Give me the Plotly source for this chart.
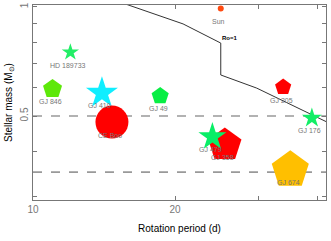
import math
import plotly.graph_objects as go

# ---- data ----
names = ["Sun", "HD 189733", "GJ 846", "GJ 410", "GJ 49", "GJ 205", "GJ 176",
         "CE Boo", "GJ 358", "GJ 479", "GJ 674"]
period = [25.0, 12.0, 11.0, 14.0, 18.6, 33.9, 39.0, 14.7, 25.5, 24.0, 35.1]
mass = [0.99, 0.75, 0.594, 0.579, 0.568, 0.601, 0.494, 0.481, 0.416, 0.438, 0.355]
symbols = ["circle", "star", "pentagon", "star", "pentagon", "pentagon", "star",
           "circle", "pentagon", "star", "pentagon"]
colors = ["#ff4a10", "#22ee66", "#5ee80a", "#10eeff", "#08ee44", "#ff0000", "#12ee66",
          "#ff0000", "#ff0000", "#08ee66", "#ffbf00"]
sizes = [6, 13, 20, 24, 18, 17, 15, 33, 35, 21, 39]

ro_period = [14.7, 20.8, 25.0, 25.0, 29.8, 42.0]
ro_mass = [1.05, 0.898, 0.795, 0.649, 0.597, 0.481]
ro_label = "Ro=1"
ro_label_pos = (26.2, 0.821)

mass_limits = [0.5, 0.35]

x_major = [10, 20]
x_minor = [30, 40]
y_major = [0.5, 1.0]
y_major_text = ["0.5", "1"]
y_minor = [0.3, 0.4, 0.6, 0.7, 0.8, 0.9]

x_range = [10, 41.8]

fig = go.Figure()

for m in mass_limits:
    fig.add_trace(go.Scatter(x=x_range, y=[m, m], mode="lines",
                             line=dict(color="#999999", width=1.6, dash="dash"),
                             hoverinfo="skip", showlegend=False))

fig.add_trace(go.Scatter(x=ro_period, y=ro_mass, mode="lines",
                         line=dict(color="#333333", width=1), showlegend=False))

for n, p, m, s, c, z in zip(names, period, mass, symbols, colors, sizes):
    fig.add_trace(go.Scatter(x=[p], y=[m], mode="markers",
                             marker=dict(symbol=s, color=c, size=z, line=dict(width=0)),
                             showlegend=False))

for n, p, m in zip(names, period, mass):
    fig.add_annotation(x=math.log10(p), y=math.log10(m),
                       text=n, showarrow=False, yshift=-13, xshift=-2,
                       font=dict(size=7, color="#777777", family="Liberation Sans"))

fig.add_annotation(x=math.log10(ro_label_pos[0]), y=math.log10(ro_label_pos[1]),
                   text="<b>" + ro_label + "</b>", showarrow=False,
                   font=dict(size=6, color="#000000", family="Liberation Sans"))

axis_common = dict(showgrid=False, zeroline=False, showline=True, linecolor="#777777",
                   linewidth=1, mirror="allticks", ticks="inside", ticklen=4,
                   tickcolor="#777777", automargin=False,
                   tickfont=dict(size=10, color="#777777", family="Liberation Sans"))

fig.update_xaxes(type="log", range=[1.0, 1.621], tickmode="array", tickvals=x_major,
                 ticktext=[str(v) for v in x_major],
                 minor=dict(tickmode="array", tickvals=x_minor, ticks="inside", ticklen=4,
                            tickcolor="#777777", showgrid=False),
                 title=dict(text="Rotation period (d)", standoff=10,
                            font=dict(size=10, color="#000000", family="Liberation Sans")),
                 **axis_common)
fig.update_yaxes(type="log", range=[-0.533, 0.0055], tickmode="array", tickvals=y_major,
                 ticktext=y_major_text, tickangle=-90,
                 minor=dict(tickmode="array", tickvals=y_minor, ticks="inside", ticklen=4,
                            tickcolor="#777777", showgrid=False),
                 title=dict(text="Stellar mass (M<sub>⊙</sub>)", standoff=4,
                            font=dict(size=10, color="#000000", family="Liberation Sans")),
                 **axis_common)

fig.update_layout(width=331, height=241, margin=dict(l=33, r=5, t=5, b=41),
                  plot_bgcolor="white", paper_bgcolor="white", showlegend=False)

fig.write_html("out.html", config={"displayModeBar": False},
               post_script="document.body.style.margin='0px';")
